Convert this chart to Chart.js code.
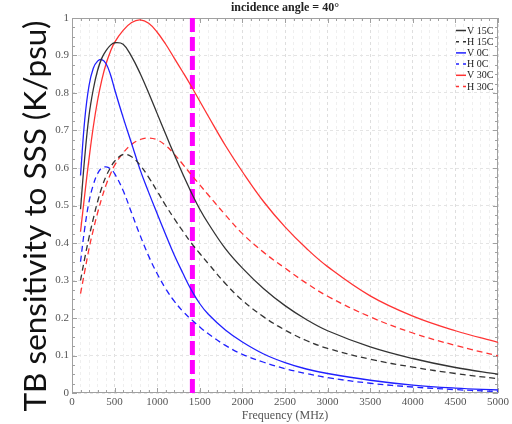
<!DOCTYPE html>
<html><head><meta charset="utf-8">
<style>html,body{margin:0;padding:0;background:#fff}</style>
<script src="https://cdn.jsdelivr.net/npm/chart.js@4.4.1/dist/chart.umd.min.js"></script>
</head><body>
<canvas id="c" width="512" height="424"></canvas>
<script>
const freq = [100,150,200,250,300,350,400,450,500,600,700,800,900,1000,1100,1200,1300,1400,1500,1600,1800,2000,2250,2500,2750,3000,3500,4000,4500,5000];
const v15C = [0.49,0.63,0.74,0.81,0.86,0.893,0.913,0.927,0.934,0.93,0.897,0.852,0.80,0.745,0.69,0.636,0.584,0.535,0.49,0.452,0.385,0.333,0.278,0.233,0.196,0.166,0.123,0.092,0.068,0.05];
const h15C = [0.30,0.36,0.415,0.465,0.51,0.548,0.578,0.60,0.618,0.636,0.63,0.607,0.575,0.538,0.50,0.465,0.432,0.40,0.372,0.345,0.292,0.247,0.203,0.168,0.14,0.119,0.09,0.069,0.052,0.038];
const v0C  = [0.58,0.73,0.82,0.866,0.885,0.889,0.878,0.85,0.81,0.735,0.665,0.595,0.535,0.478,0.422,0.368,0.32,0.275,0.238,0.21,0.168,0.136,0.104,0.081,0.064,0.052,0.034,0.021,0.013,0.008];
const h0C  = [0.35,0.44,0.51,0.555,0.585,0.60,0.603,0.598,0.585,0.54,0.48,0.42,0.365,0.318,0.278,0.245,0.218,0.196,0.176,0.158,0.127,0.103,0.082,0.065,0.052,0.041,0.026,0.016,0.009,0.004];
const v30C = [0.43,0.53,0.625,0.71,0.78,0.835,0.878,0.91,0.935,0.967,0.988,0.995,0.986,0.962,0.93,0.893,0.856,0.818,0.778,0.738,0.66,0.59,0.51,0.443,0.386,0.337,0.259,0.205,0.166,0.135];
const h30C = [0.265,0.325,0.385,0.435,0.48,0.52,0.555,0.583,0.607,0.64,0.663,0.676,0.68,0.675,0.66,0.637,0.61,0.582,0.555,0.528,0.475,0.425,0.375,0.333,0.293,0.258,0.203,0.16,0.127,0.099];
const seriesLabels = ['V 15C','H 15C','V 0C','H 0C','V 30C','H 30C'];
const markerFreq = 1413;
const markerY = [0, 1];
const xTicksMajor = 500;
const yTitle = 'TB sensitivity to SSS (K/psu)';

const cols = {k:'#333333', b:'#2020ff', r:'#ff3333'};
const seriesDefs = [
  [v15C, cols.k, false],[h15C, cols.k, true],
  [v0C, cols.b, false],[h0C, cols.b, true],
  [v30C, cols.r, false],[h30C, cols.r, true]
];
const datasets = seriesDefs.map((d,i)=>({
  label: seriesLabels[i],
  data: freq.map((f,j)=>({x:f,y:d[0][j]})),
  borderColor: d[1], borderWidth: 1.3, borderDash: d[2]?[6,4]:[],
  pointRadius: 0, fill:false, tension:0.4, isSeries:true
}));
datasets.push({
  label:'marker', data: markerY.map(y=>({x:markerFreq,y})),
  borderColor:'#ff00ff', borderWidth:5, borderDash:[14,5], pointRadius:0, isSeries:false
});

const serif = "'Liberation Serif','Times New Roman',serif";

const framePlugin = {
  id:'frame',
  beforeDatasetsDraw(chart){
    const {ctx, chartArea:a, scales} = chart;
    ctx.save();
    ctx.strokeStyle = '#a0a0a0'; ctx.lineWidth = 1;
    ctx.strokeRect(a.left+0.5, a.top+0.5, a.right-a.left-1, a.bottom-a.top-1);
    ctx.beginPath();
    for (let f=0; f<=5000; f+=100){
      const x = Math.round(scales.x.getPixelForValue(f))+0.5;
      const L = f%500===0?5:3;
      ctx.moveTo(x,a.bottom); ctx.lineTo(x,a.bottom-L);
      ctx.moveTo(x,a.top); ctx.lineTo(x,a.top+L);
    }
    for (let k=0; k<=40; k++){
      const y = Math.round(scales.y.getPixelForValue(k*0.025))+0.5;
      const L = k%4===0?5:3;
      ctx.moveTo(a.left,y); ctx.lineTo(a.left+L,y);
      ctx.moveTo(a.right,y); ctx.lineTo(a.right-L,y);
    }
    ctx.stroke();
    ctx.restore();
  },
  afterDraw(chart){
    const {ctx} = chart;
    ctx.save();
    ctx.translate(46, 216);
    ctx.rotate(-Math.PI/2);
    ctx.font = "31.5px Lato, 'Open Sans', sans-serif";
    ctx.fillStyle = '#111';
    ctx.textAlign = 'center'; ctx.textBaseline = 'alphabetic';
    ctx.fillText(yTitle, 0, 0);
    ctx.restore();
  }
};

const legendPlugin = {
  id:'legendBox',
  afterDatasetsDraw(chart){
    const {ctx, chartArea:a} = chart;
    ctx.save();
    ctx.font = "10px "+serif;
    ctx.textBaseline='middle'; ctx.fillStyle='#222';
    let y = a.top + 12.5;
    chart.data.datasets.forEach(ds=>{
      if(!ds.isSeries) return;
      const x0 = a.right - 42;
      ctx.strokeStyle = ds.borderColor; ctx.lineWidth = 1.5;
      ctx.setLineDash(ds.borderDash.length?[3,4]:[]);
      ctx.beginPath(); ctx.moveTo(x0,y); ctx.lineTo(x0+10,y); ctx.stroke();
      ctx.setLineDash([]);
      ctx.fillText(ds.label, x0+11, y+0.5);
      y += 11.2;
    });
    ctx.restore();
  }
};

new Chart(document.getElementById('c'), {
  type:'line',
  data:{datasets},
  options:{
    responsive:false, animation:false,
    layout:{padding:{left:0,right:0,top:0,bottom:0}},
    plugins:{legend:{display:false}, tooltip:{enabled:false}, title:{display:false}},
    scales:{
      x:{type:'linear', min:0, max:5000,
        ticks:{stepSize:100, autoSkip:false, maxRotation:0, padding:3, color:'#555',
          font:{family:serif,size:11}, callback:v=> v%xTicksMajor===0? String(v):''},
        grid:{drawTicks:false, color:c=> (c.tick && c.tick.value%500===0)?'#dedede':'#efefef', lineWidth:1},
        border:{display:false, dash:[3,3]},
        title:{display:true, text:'Frequency (MHz)', color:'#555', font:{family:serif,size:12}, padding:{top:0,bottom:1}},
        afterFit:s=>{s.height=31;}
      },
      x2:{type:'linear', position:'top', min:0, max:5000,
        ticks:{display:false}, grid:{display:false, drawTicks:false}, border:{display:false},
        title:{display:true, text:'incidence angle = 40°', color:'#222', font:{family:serif,size:12,weight:'bold'}, padding:{top:1,bottom:0}},
        afterFit:s=>{s.height=18;}
      },
      y:{min:0, max:1,
        ticks:{stepSize:0.1, padding:3, color:'#555', font:{family:serif,size:11},
          callback:v=> String(Math.round(v*10)/10)},
        grid:{drawTicks:false, color:'#e4e4e4', lineWidth:1},
        border:{display:false, dash:[3,3]},
        title:{display:false},
        afterFit:s=>{s.width=72;}
      }
    }
  },
  plugins:[framePlugin, legendPlugin]
});
</script>
</body></html>
